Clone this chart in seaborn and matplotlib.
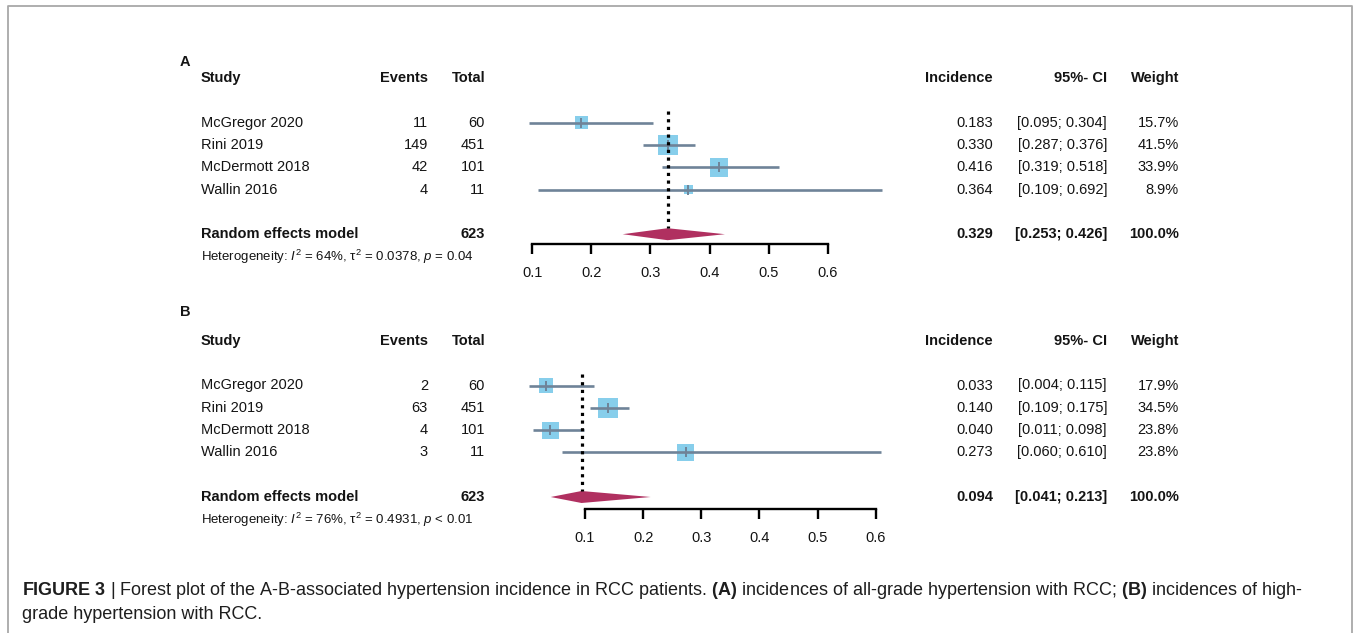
import matplotlib
matplotlib.use("Agg")
import matplotlib.pyplot as plt
import seaborn as sns
import pandas as pd

# data
studies = ['McGregor 2020', 'Rini 2019', 'McDermott 2018', 'Wallin 2016']
totals = [60, 451, 101, 11]

events_a = [11, 149, 42, 4]
inc_a = [0.183, 0.330, 0.416, 0.364]
lo_a = [0.095, 0.287, 0.319, 0.109]
hi_a = [0.304, 0.376, 0.518, 0.692]
weight_a = [15.7, 41.5, 33.9, 8.9]
pooled_a = [0.329, 0.253, 0.426]
het_a = ['64%', '0.0378', '= 0.04']

events_b = [2, 63, 4, 3]
inc_b = [0.033, 0.140, 0.040, 0.273]
lo_b = [0.004, 0.109, 0.011, 0.060]
hi_b = [0.115, 0.175, 0.098, 0.610]
weight_b = [17.9, 34.5, 23.8, 23.8]
pooled_b = [0.094, 0.041, 0.213]
het_b = ['76%', '0.4931', '< 0.01']

ticks = [0.1, 0.2, 0.3, 0.4, 0.5, 0.6]

# style
sns.set_theme(style="white")
plt.rcParams['font.family'] = ['Liberation Sans', 'DejaVu Sans']
plt.rcParams['mathtext.fontset'] = 'custom'
plt.rcParams['mathtext.rm'] = 'Liberation Sans'
plt.rcParams['mathtext.it'] = 'Liberation Sans:italic'
plt.rcParams['mathtext.bf'] = 'Liberation Sans:bold'

TXT = '#141414'
LINE_C = '#6f8398'
BOX_C = '#87ceeb'
DIAM_C = '#b03060'
FS = 10.5

W, H = 1356, 633
fig = plt.figure(figsize=(W / 100, H / 100), dpi=100)

bg = fig.add_axes([0, 0, 1, 1])
bg.set_xlim(0, W)
bg.set_ylim(H, 0)
bg.axis('off')
# figure frame
bg.plot([8, 8, 1352, 1352], [H, 6, 6, H], color='#a8a8a8', lw=1.3)

# column anchors (pixels)
X_STUDY, X_EVENTS, X_TOTAL = 201, 428, 485
X_INC, X_CI, X_W = 993, 1107, 1179
ROW_STEP = 22.3


def panel(label, label_y, header_y, row0, x01, scale, axis_y,
          events, inc, lo, hi, weight, pooled, het):
    rows_y = [row0 + i * ROW_STEP for i in range(len(studies))]
    pool_y = row0 + 111.5
    het_y = pool_y + 23

    bg.text(180, label_y, label, fontsize=FS, fontweight='bold', color=TXT, va='center')
    for x, s, ha in [(X_STUDY, 'Study', 'left'), (X_EVENTS, 'Events', 'right'),
                     (X_TOTAL, 'Total', 'right'), (X_INC, 'Incidence', 'right'),
                     (X_CI, '95%- CI', 'right'), (X_W, 'Weight', 'right')]:
        bg.text(x, header_y + 1, s, fontsize=FS, fontweight='bold', color=TXT, ha=ha, va='center')

    for i, y in enumerate(rows_y):
        bg.text(X_STUDY, y, studies[i], fontsize=FS, color=TXT, va='center')
        bg.text(X_EVENTS, y, str(events[i]), fontsize=FS, color=TXT, ha='right', va='center')
        bg.text(X_TOTAL, y, str(totals[i]), fontsize=FS, color=TXT, ha='right', va='center')
        bg.text(X_INC, y, f'{inc[i]:.3f}', fontsize=FS, color=TXT, ha='right', va='center')
        bg.text(X_CI, y, f'[{lo[i]:.3f}; {hi[i]:.3f}]', fontsize=FS, color=TXT, ha='right', va='center')
        bg.text(X_W, y, f'{weight[i]:.1f}%', fontsize=FS, color=TXT, ha='right', va='center')

    est, plo, phi = pooled
    bg.text(X_STUDY, pool_y, 'Random effects model', fontsize=FS, fontweight='bold', color=TXT, va='center')
    bg.text(X_TOTAL, pool_y, str(sum(totals)), fontsize=FS, fontweight='bold', color=TXT, ha='right', va='center')
    bg.text(X_INC, pool_y, f'{est:.3f}', fontsize=FS, fontweight='bold', color=TXT, ha='right', va='center')
    bg.text(X_CI, pool_y, f'[{plo:.3f}; {phi:.3f}]', fontsize=FS, fontweight='bold', color=TXT, ha='right', va='center')
    bg.text(X_W, pool_y, f'{sum(weight):.1f}%', fontsize=FS, fontweight='bold', color=TXT, ha='right', va='center')
    bg.text(X_STUDY, het_y,
            r'Heterogeneity: $\mathit{I}^{2}$ = ' + het[0] + r', $\mathrm{τ}^{2}$ = ' + het[1]
            + r', $\mathit{p}$ ' + het[2],
            fontsize=9.5, color=TXT, va='center')

    # forest axes: x in incidence units, y in pixel rows
    top_px = header_y
    ax = fig.add_axes([0, (H - axis_y) / H, 1, (axis_y - top_px) / H])
    ax.patch.set_alpha(0)
    ax.set_xlim(0.1 - x01 / scale, 0.1 + (W - x01) / scale)
    ax.set_ylim(axis_y, top_px)

    df = pd.DataFrame({'inc': inc, 'lo': lo, 'hi': hi, 'w': weight, 'y': rows_y})
    sns.scatterplot(data=df, x='inc', y='y', size='w', sizes=(0, 215),
                    size_norm=(0, df['w'].max()), marker='s', color=BOX_C,
                    linewidth=0, legend=False, ax=ax, zorder=2)
    ax.hlines(df['y'], df['lo'], df['hi'], color=LINE_C, lw=1.9, zorder=3)
    ax.plot(df['inc'], df['y'], marker='|', ls='none', color=LINE_C, ms=7, mew=1.4, zorder=4)

    ax.fill([plo, est, phi, est], [pool_y, pool_y - 6, pool_y, pool_y + 6],
            color=DIAM_C, lw=0, zorder=3)
    ax.vlines(est, rows_y[0] - 12, pool_y - 6, colors='black',
              linestyles=(0, (1, 1.4)), lw=2.3, zorder=5)

    for side in ['top', 'left', 'right']:
        ax.spines[side].set_visible(False)
    ax.spines['bottom'].set_bounds(ticks[0], ticks[-1])
    ax.spines['bottom'].set_color('black')
    ax.spines['bottom'].set_linewidth(1.7)
    ax.set_xticks(ticks)
    ax.set_xticklabels([f'{t:.1f}' for t in ticks])
    ax.set_yticks([])
    ax.tick_params(axis='x', bottom=True, direction='out', length=7.2, width=1.7,
                   color='black', labelsize=FS, labelcolor=TXT, pad=8.5)
    ax.set_xlabel('')
    ax.set_ylabel('')


panel('A', 62, 77, 122.7, 532.3, 590.8, 244,
      events_a, inc_a, lo_a, hi_a, weight_a, pooled_a, het_a)
panel('B', 311.5, 340, 385.5, 585.0, 581.3, 509,
      events_b, inc_b, lo_b, hi_b, weight_b, pooled_b, het_b)

# caption
cap1 = (r'$\mathbf{FIGURE\ 3}$ | Forest plot of the A-B-associated hypertension incidence in RCC patients. '
        r'$\mathbf{(A)}$ incidences of all-grade hypertension with RCC; $\mathbf{(B)}$ incidences of high-')
cap2 = 'grade hypertension with RCC.'
bg.text(22, 595, cap1, fontsize=13.0, color='#1e1e1e', va='baseline')
bg.text(22, 619, cap2, fontsize=13.0, color='#1e1e1e', va='baseline')

fig.savefig('out.png', dpi=100)
